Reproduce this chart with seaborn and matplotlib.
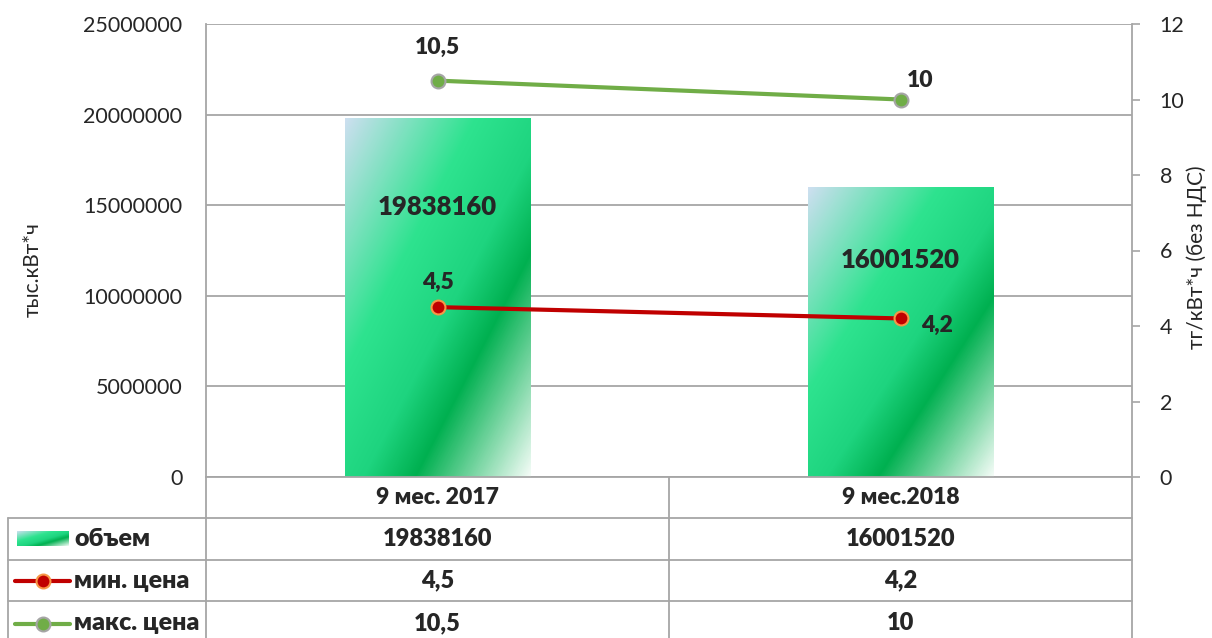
import numpy as np
import pandas as pd
import matplotlib.pyplot as plt
import seaborn as sns
from matplotlib.colors import LinearSegmentedColormap
from matplotlib.lines import Line2D

# ── data ──────────────────────────────────────────────────────────────────────
categories = ["9 мес. 2017", "9 мес.2018"]
volume = [19838160, 16001520]
min_price = [4.5, 4.2]
max_price = [10.5, 10]
series_names = ["объем", "мин. цена", "макс. цена"]

vol_ticks = [0, 5000000, 10000000, 15000000, 20000000, 25000000]
price_ticks = [0, 2, 4, 6, 8, 10, 12]

GREEN_BAR = LinearSegmentedColormap.from_list(
    "bar", [(0, "#cddff0"), (0.35, "#2ee38f"), (0.55, "#1ed47f"),
            (0.69, "#00b050"), (1, "#f4fcf7")])
RED, RED_EDGE = "#c00000", "#f79646"
OLIVE, OLIVE_EDGE = "#70ad47", "#a5a5a5"
GRID = "#a6a6a6"
BOLD = "heavy"


def fmt(v):
    return f"{v:.10g}".replace(".", ",")


def gradient_image(ax, x0, x1, y0, y1, origin="upper", n=200):
    u = np.linspace(0, 1, n)
    t = (u[None, :] + u[:, None]) / 2
    return ax.imshow(t, cmap=GREEN_BAR, vmin=0, vmax=1, extent=(x0, x1, y0, y1),
                     origin=origin, aspect="auto", interpolation="bilinear", zorder=2)


sns.set_style("white")
plt.rcParams["font.family"] = ["Lato", "DejaVu Sans"]

W, H = 1212, 638
fig = plt.figure(figsize=(W / 100, H / 100), dpi=100)

# plot area in pixels
L, R, T, B = 206, 1132, 24, 477
ROWS = [477, 518, 560, 601, 650]
TAB_L = 8

# ── table layer (pixel coords) ────────────────────────────────────────────────
tab = fig.add_axes([0, 0, 1, 1])
tab.set_xlim(0, W)
tab.set_ylim(H, 0)
tab.axis("off")

for x in [L, (L + R) / 2, R]:
    tab.add_line(Line2D([x, x], [ROWS[0], H], color=GRID, lw=1.3))
tab.add_line(Line2D([TAB_L, TAB_L], [ROWS[1], H], color=GRID, lw=1.3))
for y in ROWS[1:4]:
    tab.add_line(Line2D([TAB_L, R], [y, y], color=GRID, lw=1.3))

n = len(categories)
col_w = (R - L) / n
centers = [L + (i + 0.5) * col_w for i in range(n)]
row_c = [(ROWS[k] + ROWS[k + 1]) / 2 - (2 if k == 3 else 0) for k in range(4)]

for i, cat in enumerate(categories):
    tab.text(centers[i], row_c[0], cat, ha="center", va="center",
             fontsize=16.5, fontweight=BOLD)
    for k, series in enumerate([volume, min_price, max_price]):
        tab.text(centers[i], row_c[k + 1], fmt(series[i]), ha="center", va="center",
                 fontsize=17, fontweight=BOLD)

# legend keys in the table
gradient_image(tab, 17, 69, 546, 531)
for k, (c, ec) in enumerate([(RED, RED_EDGE), (OLIVE, OLIVE_EDGE)]):
    yk = row_c[k + 2]
    tab.add_line(Line2D([15, 70], [yk, yk], color=c, lw=3))
    tab.add_line(Line2D([43], [yk], marker="o", ms=10, color=c, mec=ec, mew=1.5))
for k, name in enumerate(series_names):
    tab.text(74, row_c[k + 1], name, ha="left", va="center",
             fontsize=18, fontweight=BOLD)
tab.set_xlim(0, W)
tab.set_ylim(H, 0)

# ── bars ──────────────────────────────────────────────────────────────────────
ax = fig.add_axes([L / W, 1 - B / H, (R - L) / W, (B - T) / H])
ax.set_facecolor("none")
df = pd.DataFrame({"period": categories, "volume": volume})
sns.barplot(data=df, x="period", y="volume", ax=ax, width=0.4,
            color="#00b050", saturation=1, linewidth=0)

for patch in list(ax.patches):
    x0, y0 = patch.get_x(), patch.get_y()
    im = gradient_image(ax, x0, x0 + patch.get_width(), y0, y0 + patch.get_height())
    im.set_clip_path(patch)
    patch.set_facecolor("none")

for i, v in enumerate(volume):
    ax.text(i, v * 0.75, fmt(v), ha="center", va="center",
            fontsize=18.5, fontweight=BOLD, zorder=5)

ax.set_xlim(-0.5, n - 0.5)
ax.set_ylim(0, 25000000)
ax.set_yticks(vol_ticks)
ax.set_yticklabels([str(t) for t in vol_ticks])
ax.set_xticks([])
ax.set_xlabel("")
ax.set_ylabel("")
ax.yaxis.grid(True, color=GRID, lw=1.3)
ax.set_axisbelow(True)
ax.tick_params(axis="y", length=0, pad=17, labelsize=15.5)
for side in ["top", "right"]:
    ax.spines[side].set_visible(False)
for side in ["left", "bottom"]:
    ax.spines[side].set_color(GRID)
    ax.spines[side].set_linewidth(1.3)

# ── price lines ───────────────────────────────────────────────────────────────
ax2 = ax.twinx()
xpos = np.arange(n)
sns.lineplot(x=xpos, y=min_price, ax=ax2, color=RED, lw=3, marker="o", ms=10,
             mfc=RED, mec=RED_EDGE, mew=1.5, zorder=4)
sns.lineplot(x=xpos, y=max_price, ax=ax2, color=OLIVE, lw=3, marker="o", ms=10,
             mfc=OLIVE, mec=OLIVE_EDGE, mew=1.5, zorder=4)

label_offsets_max = [(0, 24), (14, 14)]
label_offsets_min = [(0, 18), (26, -5)]
for i in range(n):
    ax2.annotate(fmt(max_price[i]), (i, max_price[i]), xytext=label_offsets_max[i],
                 textcoords="offset points", ha="center", va="center",
                 fontsize=16.5, fontweight=BOLD)
    ax2.annotate(fmt(min_price[i]), (i, min_price[i]), xytext=label_offsets_min[i],
                 textcoords="offset points", ha="center", va="center",
                 fontsize=16.5, fontweight=BOLD)

ax2.set_xlim(-0.5, n - 0.5)
ax2.set_ylim(0, 12)
ax2.set_yticks(price_ticks)
ax2.set_yticklabels([str(t) for t in price_ticks])
ax2.set_xlabel("")
ax2.set_ylabel("")
ax2.tick_params(axis="y", right=True, length=6, width=1.2, color=GRID,
                direction="out", pad=14, labelsize=15.5)
for side in ["top", "left", "bottom"]:
    ax2.spines[side].set_visible(False)
ax2.spines["right"].set_color(GRID)
ax2.spines["right"].set_linewidth(1.3)

fig.text(33 / W, 1 - 270 / H, "тыс.кВт*ч", rotation=90, ha="center", va="center",
         fontsize=15)
fig.text(1197 / W, 1 - 257 / H, "тг/кВт*ч (без НДС)", rotation=90, ha="center",
         va="center", fontsize=15)

fig.savefig("out.png", dpi=100)
